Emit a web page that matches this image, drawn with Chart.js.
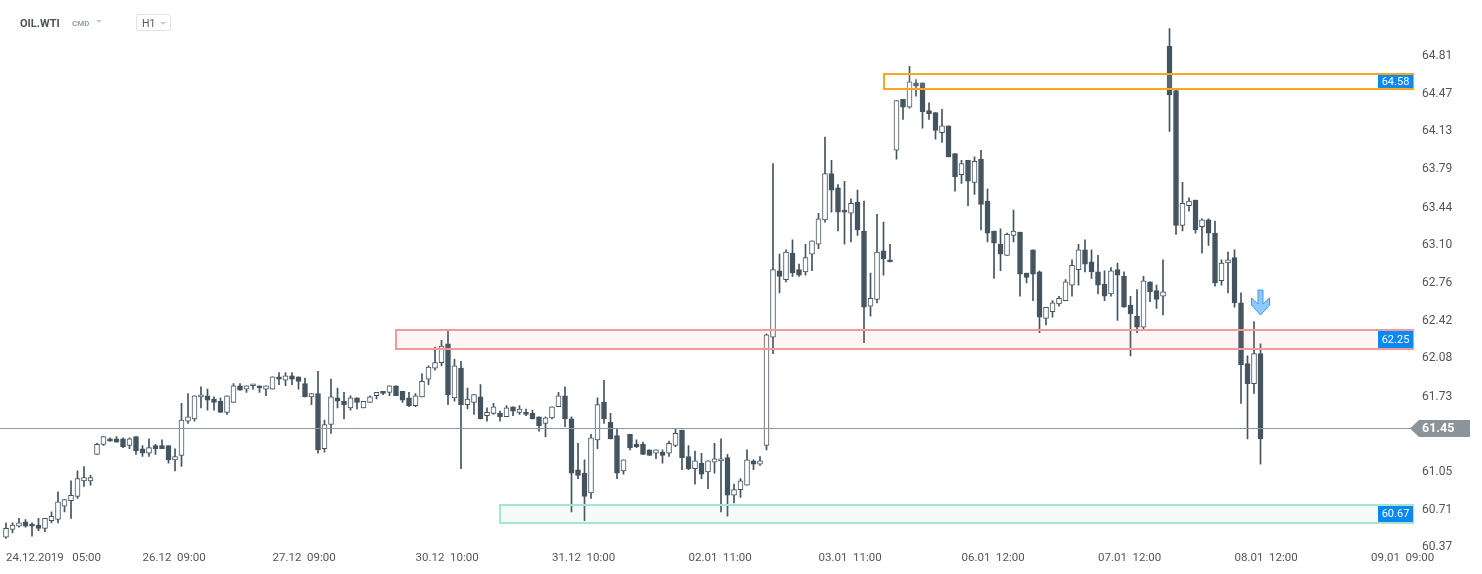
<!DOCTYPE html>
<html>
<head>
<meta charset="utf-8">
<title>OIL.WTI H1</title>
<script src="https://cdn.jsdelivr.net/npm/chart.js@4.4.1/dist/chart.umd.min.js"></script>
<style>
  html, body { margin: 0; padding: 0; background: #fff; }
  #wrap { position: relative; width: 1482px; height: 574px; overflow: hidden; }
  #myChart { position: absolute; left: 0; top: 0; }
  .hdr { position: absolute; font-family: Roboto, Arial, sans-serif; white-space: nowrap; }
  #sym { left: 20px; top: 18px; font-size: 11px; line-height: 11px; font-weight: bold; color: #4b545a; }
  #cmd { left: 72px; top: 20px; font-size: 8px; line-height: 8px; font-weight: bold; color: #8ea3b3; }
  .caret { position: absolute; width: 0; height: 0; border-left: 3px solid transparent; border-right: 3px solid transparent; border-top: 3.5px solid #c6cbce; }
  #tf { left: 136px; top: 14px; width: 35px; height: 17px; box-sizing: border-box; border: 1px solid #e3e3e3; border-radius: 2px; }
  #tfText { position: absolute; left: 5px; top: 3px; font-size: 10.5px; line-height: 11px; color: #555; }
</style>
</head>
<body>
<div id="wrap">
  <canvas id="myChart" width="1482" height="574"></canvas>
  <div class="hdr" id="sym">OIL.WTI</div>
  <div class="hdr" id="cmd">CMD</div>
  <div class="caret" style="left:96px; top:20px;"></div>
  <div class="hdr" id="tf"><span id="tfText">H1</span><div class="caret" style="left:23px; top:7px;"></div></div>
</div>
<script>
// hourly candles, 24.12.2019 05:00 -> 08.01.2020
var candleOpen = [
  60.46, 60.53, 60.56, 60.60, 60.58, 60.57, 60.54, 60.61, 60.62, 60.74,
  60.79, 60.83, 60.97, 60.97, 61.21, 61.30, 61.35, 61.35, 61.35, 61.29,
  61.37, 61.26, 61.22, 61.29, 61.29, 61.29, 61.16, 61.20, 61.51, 61.53,
  61.73, 61.74, 61.71, 61.69, 61.59, 61.68, 61.83, 61.80, 61.83, 61.83,
  61.80, 61.80, 61.91, 61.88, 61.92, 61.91, 61.85, 61.73, 61.76, 61.26,
  61.48, 61.72, 61.69, 61.63, 61.72, 61.63, 61.68, 61.74, 61.78, 61.77,
  61.83, 61.78, 61.72, 61.65, 61.73, 61.89, 61.99, 62.04, 62.21, 61.72,
  61.99, 61.66, 61.68, 61.73, 61.56, 61.58, 61.58, 61.55, 61.64, 61.59,
  61.59, 61.58, 61.55, 61.49, 61.54, 61.64, 61.74, 61.53, 61.07, 61.04,
  60.86, 61.34, 61.68, 61.50, 61.38, 61.06, 61.39, 61.30, 61.30, 61.25,
  61.22, 61.23, 61.22, 61.29, 61.43, 61.19, 61.08, 61.13, 61.05, 61.14,
  61.15, 61.18, 60.84, 60.89, 60.93, 61.15, 61.12, 61.29, 62.27, 62.87,
  62.79, 63.03, 62.88, 62.86, 63.02, 63.11, 63.33, 63.75, 63.62, 63.42,
  63.39, 63.49, 63.23, 62.55, 62.61, 63.05, 62.97, 63.96, 64.42, 64.35,
  64.57, 64.57, 64.32, 64.30, 64.12, 64.18, 63.93, 63.74, 63.87, 63.67,
  63.88, 63.50, 63.23, 63.11, 63.01, 63.19, 63.22, 62.85, 63.06, 62.86,
  62.44, 62.50, 62.57, 62.60, 62.74, 62.88, 63.06, 62.95, 62.86, 62.75,
  62.66, 62.88, 62.82, 62.56, 62.46, 62.36, 62.77, 62.69, 62.64, 64.90,
  64.50, 63.28, 63.46, 63.51, 63.27, 63.33, 63.21, 62.78, 62.94, 62.99,
  62.58, 62.03, 61.85, 62.12
];
var candleHigh = [
  60.59, 60.59, 60.63, 60.62, 60.59, 60.63, 60.63, 60.69, 60.87, 60.80,
  60.97, 61.06, 61.10, 61.02, 61.31, 61.37, 61.36, 61.37, 61.36, 61.36,
  61.37, 61.29, 61.35, 61.30, 61.34, 61.29, 61.26, 61.67, 61.76, 61.74,
  61.82, 61.80, 61.73, 61.72, 61.74, 61.85, 61.85, 61.83, 61.84, 61.83,
  61.83, 61.91, 61.95, 61.95, 61.95, 61.91, 61.90, 61.76, 61.96, 61.52,
  61.89, 61.81, 61.77, 61.74, 61.72, 61.69, 61.74, 61.77, 61.78, 61.83,
  61.83, 61.78, 61.77, 61.76, 61.94, 62.01, 62.18, 62.24, 62.33, 62.07,
  62.05, 61.81, 61.75, 61.84, 61.63, 61.67, 61.60, 61.65, 61.64, 61.65,
  61.62, 61.61, 61.55, 61.55, 61.64, 61.77, 61.82, 61.55, 61.31, 61.16,
  61.39, 61.72, 61.88, 61.58, 61.44, 61.16, 61.39, 61.34, 61.32, 61.25,
  61.25, 61.25, 61.33, 61.44, 61.43, 61.29, 61.24, 61.22, 61.15, 61.31,
  61.35, 61.21, 60.94, 60.99, 61.25, 61.16, 61.19, 62.30, 63.84, 63.02,
  63.06, 63.15, 62.93, 63.11, 63.14, 63.39, 64.08, 63.87, 63.65, 63.68,
  63.52, 63.60, 63.50, 62.85, 63.38, 63.31, 63.11, 64.41, 64.42, 64.72,
  64.60, 64.57, 64.39, 64.30, 64.33, 64.18, 63.93, 63.87, 63.87, 63.90,
  63.96, 63.61, 63.23, 63.25, 63.21, 63.42, 63.22, 62.85, 63.06, 62.87,
  62.54, 62.60, 62.64, 62.79, 62.97, 63.11, 63.15, 63.06, 63.01, 62.87,
  62.90, 62.94, 62.86, 62.64, 62.70, 62.82, 62.77, 62.74, 62.97, 65.06,
  64.51, 63.67, 63.53, 63.51, 63.34, 63.34, 63.32, 62.97, 63.04, 63.06,
  62.67, 62.10, 62.41, 62.21
];
var candleLow = [
  60.45, 60.50, 60.55, 60.55, 60.47, 60.52, 60.51, 60.59, 60.59, 60.69,
  60.63, 60.81, 60.92, 60.93, 61.21, 61.29, 61.33, 61.32, 61.27, 61.26,
  61.21, 61.19, 61.19, 61.21, 61.26, 61.13, 61.06, 61.10, 61.49, 61.51,
  61.63, 61.61, 61.61, 61.59, 61.57, 61.68, 61.79, 61.77, 61.80, 61.77,
  61.74, 61.80, 61.84, 61.83, 61.84, 61.80, 61.73, 61.66, 61.22, 61.23,
  61.40, 61.63, 61.53, 61.61, 61.62, 61.63, 61.68, 61.71, 61.75, 61.74,
  61.74, 61.68, 61.64, 61.64, 61.73, 61.84, 61.97, 62.01, 61.66, 61.69,
  61.08, 61.62, 61.57, 61.53, 61.51, 61.57, 61.51, 61.55, 61.56, 61.57,
  61.56, 61.53, 61.42, 61.37, 61.53, 61.64, 61.46, 60.69, 60.99, 60.61,
  60.81, 61.26, 61.49, 61.35, 60.99, 61.03, 61.25, 61.27, 61.21, 61.20,
  61.17, 61.13, 61.19, 61.28, 61.07, 61.07, 60.94, 60.99, 60.90, 61.04,
  60.69, 60.65, 60.77, 60.82, 60.93, 61.07, 61.11, 61.25, 62.12, 62.67,
  62.77, 62.82, 62.82, 62.83, 62.87, 63.07, 63.31, 63.40, 63.23, 63.11,
  63.13, 63.19, 62.22, 62.46, 62.58, 62.83, 62.95, 63.88, 64.24, 64.34,
  64.45, 64.16, 64.24, 64.06, 64.03, 63.90, 63.59, 63.66, 63.46, 63.56,
  63.24, 63.13, 62.80, 62.87, 63.01, 63.13, 62.64, 62.76, 62.60, 62.31,
  62.38, 62.45, 62.55, 62.60, 62.64, 62.74, 62.86, 62.80, 62.66, 62.60,
  62.64, 62.42, 62.54, 62.10, 62.31, 62.34, 62.59, 62.53, 62.47, 64.13,
  63.20, 63.23, 63.41, 63.21, 63.03, 63.10, 62.73, 62.74, 62.67, 62.54,
  61.67, 61.35, 61.76, 61.12
];
var candleClose = [
  60.54, 60.57, 60.59, 60.56, 60.56, 60.54, 60.63, 60.65, 60.78, 60.80,
  60.84, 60.99, 61.00, 61.00, 61.30, 61.37, 61.33, 61.32, 61.28, 61.35,
  61.24, 61.22, 61.27, 61.26, 61.26, 61.16, 61.19, 61.52, 61.55, 61.74,
  61.74, 61.70, 61.68, 61.59, 61.74, 61.83, 61.79, 61.83, 61.84, 61.81,
  61.83, 61.91, 61.89, 61.92, 61.89, 61.87, 61.73, 61.76, 61.25, 61.48,
  61.73, 61.69, 61.66, 61.72, 61.68, 61.69, 61.73, 61.77, 61.76, 61.83,
  61.74, 61.70, 61.65, 61.74, 61.87, 62.00, 62.04, 62.19, 61.75, 62.01,
  61.66, 61.71, 61.75, 61.53, 61.59, 61.64, 61.55, 61.63, 61.60, 61.62,
  61.57, 61.53, 61.47, 61.54, 61.64, 61.74, 61.53, 61.04, 61.02, 60.83,
  61.36, 61.66, 61.53, 61.35, 61.04, 61.16, 61.27, 61.28, 61.21, 61.20,
  61.25, 61.20, 61.31, 61.40, 61.18, 61.08, 61.15, 61.03, 61.15, 61.17,
  61.17, 60.84, 60.89, 60.97, 61.16, 61.12, 61.15, 62.29, 62.88, 62.82,
  63.04, 62.85, 62.83, 62.99, 63.14, 63.34, 63.75, 63.60, 63.40, 63.40,
  63.48, 63.24, 62.54, 62.62, 63.04, 62.98, 62.95, 64.41, 64.35, 64.58,
  64.54, 64.31, 64.29, 64.14, 64.18, 63.90, 63.72, 63.84, 63.68, 63.86,
  63.47, 63.21, 63.12, 63.02, 63.20, 63.23, 62.84, 62.81, 62.84, 62.45,
  62.54, 62.58, 62.62, 62.77, 62.92, 63.06, 62.93, 62.86, 62.74, 62.64,
  62.87, 62.83, 62.54, 62.48, 62.36, 62.78, 62.68, 62.61, 62.68, 64.46,
  63.28, 63.48, 63.50, 63.24, 63.33, 63.21, 62.76, 62.94, 62.97, 62.58,
  62.02, 61.85, 62.12, 61.35
];

// axis ticks
var xTickIndex = [0, 21, 41, 63, 84, 105, 125, 147, 168, 189, 210];
var xTickLabels = ['24.12.2019   05:00', '26.12  09:00', '27.12  09:00', '30.12  10:00', '31.12  10:00',
                   '02.01  11:00', '03.01  11:00', '06.01  12:00', '07.01  12:00', '08.01  12:00', '09.01  09:00'];
var yTickValues = [60.37, 60.71, 61.05, 61.39, 61.73, 62.08, 62.42, 62.76, 63.10, 63.44, 63.79, 64.13, 64.47, 64.81];

// support / resistance zones
var zoneHigh = [64.65, 62.33, 60.75];
var zoneLow = [64.51, 62.16, 60.59];
var zoneStart = [135, 60, 76];
var zoneLevel = [64.58, 62.25, 60.67];

var lastPrice = 61.45;
var signalIndex = 193;
var signalPrice = 62.47;

// styles
var candleColor = '#44545f';
var zoneStroke = ['#f7a823', '#f29a9a', '#a9e4cf'];
var zoneFill = ['rgba(255,255,255,0.12)', 'rgba(240,128,128,0.08)', 'rgba(120,210,180,0.08)'];

var bodyColors = candleOpen.map(function (o, i) { return candleClose[i] >= o ? '#ffffff' : candleColor; });

var overlay = {
    id: 'overlay',
    afterDatasetsDraw: function (chart) {
        var ctx = chart.ctx, area = chart.chartArea;
        var xs = chart.scales.x, ys = chart.scales.y;
        ctx.save();

        // zones
        zoneHigh.forEach(function (hi, k) {
            var x0 = Math.round(xs.getPixelForValue(zoneStart[k]));
            var y0 = Math.round(ys.getPixelForValue(hi));
            var y1 = Math.round(ys.getPixelForValue(zoneLow[k]));
            var x1 = Math.round(area.right);
            ctx.fillStyle = zoneFill[k];
            ctx.fillRect(x0, y0, x1 - x0, y1 - y0);
            ctx.strokeStyle = zoneStroke[k];
            ctx.lineWidth = 2;
            ctx.strokeRect(x0, y0, x1 - x0, y1 - y0);
            // level tag
            ctx.fillStyle = '#0b89f3';
            ctx.fillRect(x1 - 35, y0 + 1, 35, y1 - y0 - 2);
            ctx.fillStyle = '#ffffff';
            ctx.font = '11px Roboto';
            ctx.textAlign = 'center';
            ctx.textBaseline = 'middle';
            ctx.fillText(zoneLevel[k].toFixed(2), x1 - 17.5, (y0 + y1) / 2 + 0.5);
        });

        // last price line + tag
        var py = Math.round(ys.getPixelForValue(lastPrice)) + 0.5;
        ctx.strokeStyle = '#8c969b';
        ctx.lineWidth = 1;
        ctx.beginPath();
        ctx.moveTo(area.left, py);
        ctx.lineTo(area.right - 3, py);
        ctx.stroke();
        ctx.fillStyle = '#8a9499';
        ctx.beginPath();
        ctx.moveTo(area.right - 3, py);
        ctx.lineTo(area.right + 6, py - 8.5);
        ctx.lineTo(area.right + 57, py - 8.5);
        ctx.lineTo(area.right + 57, py + 8.5);
        ctx.lineTo(area.right + 6, py + 8.5);
        ctx.closePath();
        ctx.fill();
        ctx.fillStyle = '#ffffff';
        ctx.font = 'bold 12.5px Roboto';
        ctx.textAlign = 'left';
        ctx.textBaseline = 'middle';
        ctx.fillText(lastPrice.toFixed(2), area.right + 9, py + 0.5);

        // sell signal arrow
        var ax = xs.getPixelForValue(signalIndex);
        var ay = ys.getPixelForValue(signalPrice);
        ctx.beginPath();
        ctx.moveTo(ax - 2.5, ay - 25);
        ctx.lineTo(ax + 2.5, ay - 25);
        ctx.lineTo(ax + 2.5, ay - 11);
        ctx.lineTo(ax + 9, ay - 17);
        ctx.lineTo(ax + 9, ay - 10);
        ctx.lineTo(ax, ay);
        ctx.lineTo(ax - 9, ay - 10);
        ctx.lineTo(ax - 9, ay - 17);
        ctx.lineTo(ax - 2.5, ay - 11);
        ctx.closePath();
        ctx.fillStyle = '#8ccaff';
        ctx.fill();
        ctx.strokeStyle = '#3d9bef';
        ctx.lineWidth = 1;
        ctx.stroke();

        ctx.restore();
    }
};

var ctx = document.getElementById('myChart').getContext('2d');

var config = {
    type: 'bar',
    data: {
        datasets: [{
            label: 'body',
            data: candleOpen.map(function (o, i) { return { x: i, y: [o, candleClose[i]] }; }),
            backgroundColor: bodyColors,
            borderColor: candleColor,
            borderWidth: 1,
            borderSkipped: false,
            barThickness: 5,
            minBarLength: 2,
            grouped: false,
            order: 0
        }, {
            label: 'wick',
            data: candleLow.map(function (l, i) { return { x: i, y: [l, candleHigh[i]] }; }),
            backgroundColor: candleColor,
            borderWidth: 0,
            barThickness: 1,
            grouped: false,
            order: 1
        }]
    },
    options: {
        responsive: false,
        animation: false,
        layout: { padding: { top: 17.6, bottom: 8.3, left: 0, right: 0 } },
        scales: {
            x: {
                type: 'linear',
                min: -0.923,
                max: 216.46,
                offset: false,
                grid: { display: false, drawTicks: false, offset: false },
                border: { display: false },
                afterBuildTicks: function (scale) {
                    scale.ticks = xTickIndex.map(function (v) { return { value: v }; });
                },
                afterFit: function (scale) { scale.height = 15.2; },
                ticks: {
                    autoSkip: false,
                    maxRotation: 0,
                    align: 'start',
                    padding: 1,
                    color: '#555',
                    font: { family: 'Roboto', size: 11.5 },
                    callback: function (value, index) { return xTickLabels[index]; }
                }
            },
            y: {
                position: 'right',
                min: 60.34,
                max: 65.16,
                grid: { display: false, drawTicks: false },
                border: { display: false },
                afterBuildTicks: function (scale) {
                    scale.ticks = yTickValues.map(function (v) { return { value: v }; });
                },
                afterFit: function (scale) { scale.width = 69; },
                ticks: {
                    autoSkip: false,
                    padding: 9,
                    color: '#555',
                    font: { family: 'Roboto', size: 12 },
                    callback: function (value) { return value.toFixed(2); }
                }
            }
        },
        plugins: {
            legend: { display: false },
            tooltip: { enabled: false }
        }
    },
    plugins: [overlay]
};

new Chart(ctx, config);
</script>
</body>
</html>
